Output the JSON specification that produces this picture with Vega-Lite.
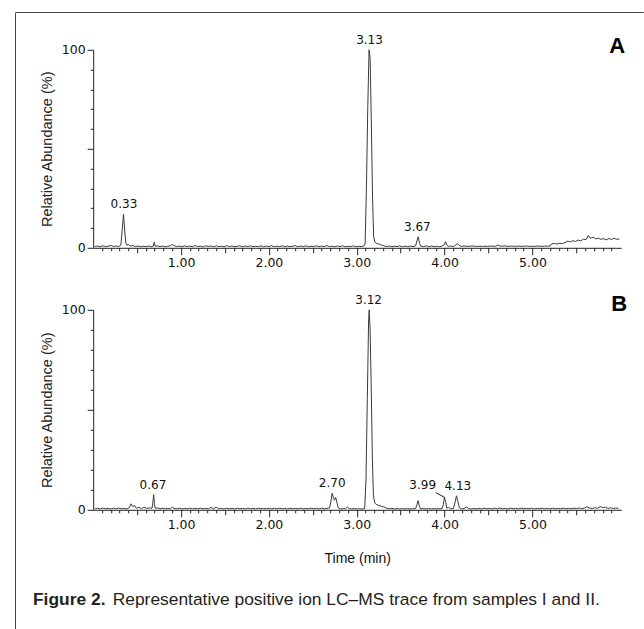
{
"$schema": "https://vega.github.io/schema/vega-lite/v6.json",
"autosize": {"type": "pad"},
"padding": {"left": 14, "top": 11, "right": 0, "bottom": 0},
"background": "white",
"spacing": 0,
"bounds": "flush",
"config": {
  "view": {"stroke": null},
  "axis": {"domainColor": "#222", "tickColor": "#222", "labelColor": "#111", "labelFont": "DejaVu Sans", "labelFontSize": 12.5, "grid": false, "labelPadding": 2, "tickWidth": 1, "domainWidth": 1, "labelOverlap": false, "labelFlush": false, "labelBound": false, "titleFont": "Liberation Sans", "titleFontWeight": "normal", "titleColor": "#222"}
},
"datasets": {
  "A": [{"t":0.02,"v":0.6},{"t":0.05,"v":0.9},{"t":0.08,"v":0.5},{"t":0.11,"v":1.0},{"t":0.14,"v":0.6},{"t":0.17,"v":0.8},{"t":0.2,"v":1.2},{"t":0.23,"v":0.7},{"t":0.26,"v":0.9},{"t":0.29,"v":0.6},{"t":0.315,"v":1.4},{"t":0.33,"v":9},{"t":0.345,"v":17},{"t":0.36,"v":8},{"t":0.372,"v":2.2},{"t":0.385,"v":1.3},{"t":0.4,"v":1.7},{"t":0.42,"v":0.9},{"t":0.45,"v":1.2},{"t":0.48,"v":0.6},{"t":0.51,"v":0.9},{"t":0.54,"v":0.5},{"t":0.57,"v":0.8},{"t":0.6,"v":0.6},{"t":0.63,"v":0.9},{"t":0.66,"v":0.5},{"t":0.685,"v":0.9},{"t":0.695,"v":2.9},{"t":0.705,"v":0.8},{"t":0.73,"v":1.0},{"t":0.76,"v":0.6},{"t":0.79,"v":0.9},{"t":0.82,"v":0.5},{"t":0.85,"v":0.8},{"t":0.88,"v":1.0},{"t":0.9,"v":1.7},{"t":0.92,"v":1.1},{"t":0.95,"v":0.6},{"t":0.98,"v":0.9},{"t":1.01,"v":0.5},{"t":1.04,"v":1.0},{"t":1.07,"v":0.6},{"t":1.1,"v":0.9},{"t":1.13,"v":0.5},{"t":1.16,"v":1.1},{"t":1.19,"v":0.6},{"t":1.22,"v":0.9},{"t":1.25,"v":0.4},{"t":1.28,"v":1.0},{"t":1.31,"v":0.7},{"t":1.34,"v":0.9},{"t":1.37,"v":0.5},{"t":1.4,"v":1.0},{"t":1.43,"v":0.6},{"t":1.46,"v":0.8},{"t":1.49,"v":0.5},{"t":1.52,"v":1.1},{"t":1.55,"v":0.6},{"t":1.58,"v":0.9},{"t":1.61,"v":0.5},{"t":1.64,"v":0.8},{"t":1.67,"v":1.0},{"t":1.7,"v":0.5},{"t":1.73,"v":0.9},{"t":1.76,"v":0.6},{"t":1.79,"v":1.0},{"t":1.82,"v":0.5},{"t":1.85,"v":0.8},{"t":1.88,"v":0.6},{"t":1.91,"v":1.0},{"t":1.94,"v":0.5},{"t":1.97,"v":0.9},{"t":2.0,"v":0.6},{"t":2.03,"v":1.1},{"t":2.06,"v":0.5},{"t":2.09,"v":0.8},{"t":2.12,"v":0.6},{"t":2.15,"v":1.0},{"t":2.18,"v":0.5},{"t":2.21,"v":0.9},{"t":2.24,"v":0.6},{"t":2.27,"v":0.8},{"t":2.3,"v":1.1},{"t":2.33,"v":0.5},{"t":2.36,"v":0.9},{"t":2.39,"v":0.6},{"t":2.42,"v":1.0},{"t":2.45,"v":0.5},{"t":2.48,"v":0.8},{"t":2.51,"v":0.6},{"t":2.54,"v":1.0},{"t":2.57,"v":0.5},{"t":2.6,"v":0.9},{"t":2.63,"v":0.6},{"t":2.66,"v":1.1},{"t":2.69,"v":0.6},{"t":2.72,"v":0.8},{"t":2.75,"v":0.5},{"t":2.78,"v":0.9},{"t":2.81,"v":0.6},{"t":2.84,"v":1.0},{"t":2.87,"v":0.5},{"t":2.9,"v":0.8},{"t":2.93,"v":0.6},{"t":2.96,"v":1.0},{"t":2.99,"v":0.5},{"t":3.02,"v":0.8},{"t":3.05,"v":0.6},{"t":3.08,"v":0.9},{"t":3.095,"v":2},{"t":3.11,"v":30},{"t":3.125,"v":70},{"t":3.14,"v":100},{"t":3.152,"v":96},{"t":3.165,"v":65},{"t":3.18,"v":25},{"t":3.192,"v":6},{"t":3.205,"v":3},{"t":3.22,"v":2.3},{"t":3.25,"v":1.9},{"t":3.28,"v":1.4},{"t":3.31,"v":1.0},{"t":3.34,"v":0.6},{"t":3.37,"v":0.9},{"t":3.4,"v":0.5},{"t":3.43,"v":0.8},{"t":3.46,"v":0.6},{"t":3.49,"v":1.0},{"t":3.52,"v":0.5},{"t":3.55,"v":0.8},{"t":3.58,"v":0.6},{"t":3.61,"v":0.9},{"t":3.64,"v":0.6},{"t":3.67,"v":1.0},{"t":3.685,"v":3.5},{"t":3.7,"v":5.6},{"t":3.715,"v":2.2},{"t":3.73,"v":0.8},{"t":3.76,"v":0.6},{"t":3.79,"v":1.0},{"t":3.82,"v":0.5},{"t":3.85,"v":0.9},{"t":3.88,"v":0.6},{"t":3.91,"v":0.8},{"t":3.94,"v":0.5},{"t":3.97,"v":0.9},{"t":3.995,"v":1.5},{"t":4.01,"v":3.1},{"t":4.025,"v":1.3},{"t":4.04,"v":0.7},{"t":4.07,"v":0.9},{"t":4.1,"v":0.6},{"t":4.125,"v":1.4},{"t":4.145,"v":2.1},{"t":4.165,"v":1.2},{"t":4.19,"v":0.7},{"t":4.22,"v":0.9},{"t":4.25,"v":0.8},{"t":4.28,"v":0.7},{"t":4.31,"v":0.9},{"t":4.34,"v":0.8},{"t":4.37,"v":0.7},{"t":4.4,"v":0.8},{"t":4.43,"v":0.7},{"t":4.46,"v":0.8},{"t":4.49,"v":0.7},{"t":4.52,"v":0.9},{"t":4.55,"v":0.8},{"t":4.58,"v":0.7},{"t":4.61,"v":1.4},{"t":4.63,"v":0.9},{"t":4.66,"v":0.8},{"t":4.69,"v":1.0},{"t":4.72,"v":0.7},{"t":4.75,"v":0.9},{"t":4.78,"v":0.8},{"t":4.81,"v":0.7},{"t":4.84,"v":0.9},{"t":4.87,"v":0.7},{"t":4.9,"v":0.8},{"t":4.93,"v":0.9},{"t":4.96,"v":0.7},{"t":4.99,"v":0.8},{"t":5.02,"v":0.7},{"t":5.05,"v":0.9},{"t":5.08,"v":0.8},{"t":5.11,"v":0.7},{"t":5.14,"v":0.9},{"t":5.17,"v":0.8},{"t":5.2,"v":0.9},{"t":5.22,"v":2.0},{"t":5.25,"v":2.2},{"t":5.28,"v":1.9},{"t":5.31,"v":2.3},{"t":5.34,"v":2.1},{"t":5.37,"v":2.6},{"t":5.4,"v":3.4},{"t":5.43,"v":3.0},{"t":5.46,"v":3.6},{"t":5.49,"v":3.2},{"t":5.52,"v":3.9},{"t":5.55,"v":3.5},{"t":5.58,"v":4.4},{"t":5.61,"v":4.1},{"t":5.635,"v":6.2},{"t":5.66,"v":4.8},{"t":5.69,"v":5.4},{"t":5.72,"v":4.5},{"t":5.75,"v":4.8},{"t":5.78,"v":4.3},{"t":5.81,"v":4.6},{"t":5.84,"v":4.0},{"t":5.87,"v":4.7},{"t":5.9,"v":4.2},{"t":5.93,"v":4.8},{"t":5.96,"v":4.3},{"t":5.99,"v":4.5}],
  "B": [{"t":0.02,"v":0.5},{"t":0.05,"v":0.8},{"t":0.08,"v":0.4},{"t":0.11,"v":0.9},{"t":0.14,"v":0.5},{"t":0.17,"v":0.7},{"t":0.2,"v":0.4},{"t":0.23,"v":0.8},{"t":0.26,"v":0.5},{"t":0.29,"v":0.9},{"t":0.32,"v":0.5},{"t":0.35,"v":0.7},{"t":0.38,"v":0.4},{"t":0.41,"v":1.0},{"t":0.43,"v":3.0},{"t":0.45,"v":1.6},{"t":0.47,"v":2.2},{"t":0.49,"v":0.8},{"t":0.52,"v":1.2},{"t":0.55,"v":0.6},{"t":0.58,"v":1.3},{"t":0.61,"v":0.7},{"t":0.64,"v":0.9},{"t":0.67,"v":0.8},{"t":0.68,"v":4},{"t":0.688,"v":7.6},{"t":0.697,"v":3},{"t":0.705,"v":0.8},{"t":0.73,"v":0.9},{"t":0.76,"v":0.5},{"t":0.79,"v":0.8},{"t":0.82,"v":0.5},{"t":0.85,"v":0.7},{"t":0.88,"v":0.5},{"t":0.9,"v":1.4},{"t":0.92,"v":0.7},{"t":0.95,"v":0.5},{"t":0.98,"v":0.8},{"t":1.01,"v":0.4},{"t":1.04,"v":0.7},{"t":1.07,"v":0.5},{"t":1.1,"v":0.8},{"t":1.13,"v":0.4},{"t":1.16,"v":0.7},{"t":1.19,"v":0.5},{"t":1.22,"v":0.8},{"t":1.25,"v":0.5},{"t":1.28,"v":0.7},{"t":1.31,"v":0.4},{"t":1.34,"v":1.2},{"t":1.37,"v":0.5},{"t":1.4,"v":1.3},{"t":1.43,"v":0.5},{"t":1.46,"v":0.7},{"t":1.49,"v":0.4},{"t":1.52,"v":0.8},{"t":1.55,"v":0.5},{"t":1.58,"v":0.7},{"t":1.61,"v":0.4},{"t":1.64,"v":0.8},{"t":1.67,"v":0.5},{"t":1.7,"v":0.7},{"t":1.73,"v":0.4},{"t":1.76,"v":0.8},{"t":1.79,"v":0.5},{"t":1.82,"v":0.7},{"t":1.85,"v":0.4},{"t":1.88,"v":0.8},{"t":1.91,"v":0.5},{"t":1.94,"v":0.7},{"t":1.97,"v":0.5},{"t":2.0,"v":0.8},{"t":2.03,"v":0.4},{"t":2.06,"v":0.7},{"t":2.09,"v":0.5},{"t":2.12,"v":0.8},{"t":2.15,"v":0.5},{"t":2.18,"v":0.7},{"t":2.21,"v":0.4},{"t":2.24,"v":0.8},{"t":2.27,"v":0.5},{"t":2.3,"v":0.7},{"t":2.33,"v":0.5},{"t":2.36,"v":0.8},{"t":2.39,"v":0.4},{"t":2.42,"v":0.7},{"t":2.45,"v":0.5},{"t":2.48,"v":0.8},{"t":2.51,"v":0.5},{"t":2.54,"v":0.7},{"t":2.57,"v":0.4},{"t":2.6,"v":0.8},{"t":2.63,"v":0.5},{"t":2.66,"v":0.7},{"t":2.69,"v":0.9},{"t":2.705,"v":4},{"t":2.72,"v":8.3},{"t":2.735,"v":6},{"t":2.745,"v":4.8},{"t":2.76,"v":6.2},{"t":2.775,"v":3.5},{"t":2.79,"v":1},{"t":2.81,"v":0.4},{"t":2.84,"v":0.6},{"t":2.87,"v":0.5},{"t":2.895,"v":1.4},{"t":2.915,"v":0.6},{"t":2.94,"v":0.4},{"t":2.97,"v":0.6},{"t":3.0,"v":0.4},{"t":3.03,"v":0.5},{"t":3.06,"v":0.4},{"t":3.09,"v":0.6},{"t":3.105,"v":15},{"t":3.12,"v":55},{"t":3.135,"v":95},{"t":3.142,"v":100},{"t":3.152,"v":90},{"t":3.165,"v":60},{"t":3.178,"v":25},{"t":3.19,"v":7},{"t":3.205,"v":3.4},{"t":3.22,"v":2.8},{"t":3.25,"v":2.2},{"t":3.28,"v":1.8},{"t":3.31,"v":1.4},{"t":3.34,"v":0.8},{"t":3.37,"v":0.5},{"t":3.4,"v":0.7},{"t":3.43,"v":0.4},{"t":3.46,"v":0.6},{"t":3.49,"v":0.4},{"t":3.52,"v":0.6},{"t":3.55,"v":0.4},{"t":3.58,"v":0.6},{"t":3.61,"v":0.4},{"t":3.64,"v":0.5},{"t":3.67,"v":0.6},{"t":3.685,"v":2.5},{"t":3.698,"v":4.6},{"t":3.71,"v":2.2},{"t":3.725,"v":0.5},{"t":3.76,"v":0.6},{"t":3.79,"v":0.4},{"t":3.82,"v":0.6},{"t":3.85,"v":0.4},{"t":3.88,"v":0.6},{"t":3.91,"v":0.4},{"t":3.94,"v":0.6},{"t":3.97,"v":0.5},{"t":3.985,"v":2.5},{"t":3.998,"v":6.3},{"t":4.012,"v":4},{"t":4.025,"v":0.8},{"t":4.045,"v":1.2},{"t":4.07,"v":0.5},{"t":4.1,"v":0.6},{"t":4.118,"v":3.5},{"t":4.135,"v":7},{"t":4.152,"v":4},{"t":4.168,"v":1},{"t":4.19,"v":0.5},{"t":4.22,"v":0.6},{"t":4.25,"v":1.4},{"t":4.27,"v":0.7},{"t":4.3,"v":0.4},{"t":4.33,"v":0.6},{"t":4.36,"v":0.5},{"t":4.39,"v":0.7},{"t":4.42,"v":0.4},{"t":4.45,"v":0.8},{"t":4.48,"v":0.5},{"t":4.51,"v":0.7},{"t":4.54,"v":0.4},{"t":4.57,"v":0.8},{"t":4.6,"v":0.5},{"t":4.63,"v":0.9},{"t":4.66,"v":0.5},{"t":4.69,"v":0.7},{"t":4.72,"v":0.4},{"t":4.75,"v":0.8},{"t":4.78,"v":0.5},{"t":4.81,"v":0.7},{"t":4.84,"v":0.4},{"t":4.87,"v":0.8},{"t":4.9,"v":0.5},{"t":4.93,"v":0.7},{"t":4.96,"v":0.5},{"t":4.99,"v":0.8},{"t":5.02,"v":0.4},{"t":5.05,"v":0.7},{"t":5.08,"v":0.5},{"t":5.11,"v":0.8},{"t":5.14,"v":0.5},{"t":5.17,"v":0.7},{"t":5.2,"v":0.4},{"t":5.23,"v":0.8},{"t":5.26,"v":0.5},{"t":5.29,"v":0.7},{"t":5.32,"v":0.5},{"t":5.35,"v":0.8},{"t":5.38,"v":0.5},{"t":5.41,"v":0.7},{"t":5.44,"v":0.5},{"t":5.47,"v":0.8},{"t":5.5,"v":0.6},{"t":5.53,"v":0.9},{"t":5.56,"v":0.6},{"t":5.59,"v":0.8},{"t":5.62,"v":1.5},{"t":5.65,"v":0.9},{"t":5.68,"v":0.7},{"t":5.71,"v":1.0},{"t":5.74,"v":0.8},{"t":5.77,"v":1.6},{"t":5.8,"v":1.1},{"t":5.83,"v":1.3},{"t":5.86,"v":0.7},{"t":5.89,"v":1.0},{"t":5.92,"v":0.6},{"t":5.95,"v":0.9},{"t":5.98,"v":0.7}],
  "labA": [{"t":0.35,"v":17,"s":"0.33"},{"t":3.145,"v":100,"s":"3.13"},{"t":3.69,"v":5.6,"s":"3.67"}],
  "labB": [{"t":0.68,"v":7.6,"s":"0.67"},{"t":2.72,"v":8.3,"s":"2.70"},{"t":3.135,"v":100,"s":"3.12"},{"t":3.75,"v":7.6,"s":"3.99"},{"t":4.15,"v":7,"s":"4.13"}],
  "leadB": [{"t":3.9,"v":8.6,"t2":4.0,"v2":6.2}],
  "cap": [{"k":"b","s":"Figure 2."},{"k":"r","s":"Representative positive ion LC–MS trace from samples I and II."}],
  "none": []
},
"vconcat": [
  {
    "width": 628, "height": 0.01,
    "view": {"stroke": "#444", "strokeWidth": 1},
    "data": {"name": "none"},
    "mark": "point"
  },
  {
    "spacing": 77.2,
    "bounds": "flush",
    "hconcat": [
      {
        "width": 0.01, "height": 616,
        "view": {"stroke": "#444", "strokeWidth": 1},
        "data": {"name": "none"},
        "mark": "point"
      },
      {
        "spacing": 35.8,
        "bounds": "flush",
        "vconcat": [
          {"width": 1, "height": 0.01, "data": {"name": "none"}, "mark": "point"},
          {
            "spacing": 62,
            "bounds": "flush",
            "vconcat": [
              {
                "width": 528, "height": 198,
                "title": {"text": "A", "orient": "top", "anchor": "end", "frame": "group", "font": "Liberation Sans", "fontSize": 22, "fontWeight": "bold", "color": "#000", "baseline": "alphabetic", "offset": -41, "dx": 4},
                "resolve": {"axis": {"x": "independent", "y": "independent"}},
                "layer": [
                  {"data": {"name": "A"}, "mark": {"type": "line", "color": "#3a3a3a", "strokeWidth": 1},
                   "encoding": {
                     "x": {"field": "t", "type": "quantitative", "scale": {"domain": [0, 6.01], "nice": false, "zero": false},
                           "axis": {"orient": "bottom", "title": null, "labels": false, "tickSize": 3, "values": [0.1,0.2,0.3,0.4,0.6,0.7,0.8,0.9,1.1,1.2,1.3,1.4,1.6,1.7,1.8,1.9,2.1,2.2,2.3,2.4,2.6,2.7,2.8,2.9,3.1,3.2,3.3,3.4,3.6,3.7,3.8,3.9,4.1,4.2,4.3,4.4,4.6,4.7,4.8,4.9,5.1,5.2,5.3,5.4,5.6,5.7,5.8,5.9]}},
                     "y": {"field": "v", "type": "quantitative", "scale": {"domain": [0, 100], "nice": false},
                           "axis": {"orient": "left", "title": null, "labels": false, "tickSize": 3, "values": [10,20,30,40,60,70,80,90]}}
                   }},
                  {"data": {"name": "labA"}, "transform": [{"filter": "datum.v < 100"}],
                   "mark": {"type": "text", "font": "DejaVu Sans", "fontSize": 12, "baseline": "bottom", "dy": -3, "color": "#111"},
                   "encoding": {
                     "x": {"field": "t", "type": "quantitative", "axis": {"orient": "bottom", "title": null, "labels": false, "domain": false, "tickSize": 5, "values": [0.5,1.5,2.5,3.5,4.5,5.5]}},
                     "y": {"field": "v", "type": "quantitative", "axis": {"orient": "left", "title": null, "labels": false, "domain": false, "tickSize": 6, "values": [50]}},
                     "text": {"field": "s"}}},
                  {"data": {"name": "labA"}, "transform": [{"filter": "datum.v >= 100"}],
                   "mark": {"type": "text", "font": "DejaVu Sans", "fontSize": 12, "baseline": "bottom", "dy": -3, "color": "#111"},
                   "encoding": {
                     "x": {"field": "t", "type": "quantitative", "axis": {"orient": "bottom", "title": null, "domain": false, "tickSize": 7, "format": ".2f", "values": [1,2,3,4,5]}},
                     "y": {"field": "v", "type": "quantitative", "axis": {"orient": "left", "title": "Relative Abundance (%)", "titleFontSize": 14.5, "titlePadding": 7, "domain": false, "tickSize": 6, "values": [0,100]}},
                     "text": {"field": "s"}}}
                ]
              },
              {
                "width": 528, "height": 200,
                "title": {"text": "B", "orient": "top", "anchor": "end", "frame": "group", "font": "Liberation Sans", "fontSize": 22, "fontWeight": "bold", "color": "#000", "baseline": "alphabetic", "offset": -39, "dx": 6},
                "resolve": {"axis": {"x": "independent", "y": "independent"}},
                "layer": [
                  {"data": {"name": "B"}, "mark": {"type": "line", "color": "#3a3a3a", "strokeWidth": 1},
                   "encoding": {
                     "x": {"field": "t", "type": "quantitative", "scale": {"domain": [0, 6.01], "nice": false, "zero": false},
                           "axis": {"orient": "bottom", "title": null, "labels": false, "tickSize": 3, "values": [0.1,0.2,0.3,0.4,0.6,0.7,0.8,0.9,1.1,1.2,1.3,1.4,1.6,1.7,1.8,1.9,2.1,2.2,2.3,2.4,2.6,2.7,2.8,2.9,3.1,3.2,3.3,3.4,3.6,3.7,3.8,3.9,4.1,4.2,4.3,4.4,4.6,4.7,4.8,4.9,5.1,5.2,5.3,5.4,5.6,5.7,5.8,5.9]}},
                     "y": {"field": "v", "type": "quantitative", "scale": {"domain": [0, 100], "nice": false},
                           "axis": {"orient": "left", "title": null, "labels": false, "tickSize": 3, "values": [10,20,30,40,60,70,80,90]}}
                   }},
                  {"data": {"name": "labB"}, "transform": [{"filter": "datum.v < 100"}],
                   "mark": {"type": "text", "font": "DejaVu Sans", "fontSize": 12, "baseline": "bottom", "dy": -3, "color": "#111"},
                   "encoding": {
                     "x": {"field": "t", "type": "quantitative", "axis": {"orient": "bottom", "title": null, "labels": false, "domain": false, "tickSize": 5, "values": [0.5,1.5,2.5,3.5,4.5,5.5]}},
                     "y": {"field": "v", "type": "quantitative", "axis": {"orient": "left", "title": null, "labels": false, "domain": false, "tickSize": 6, "values": [50]}},
                     "text": {"field": "s"}}},
                  {"data": {"name": "labB"}, "transform": [{"filter": "datum.v >= 100"}],
                   "mark": {"type": "text", "font": "DejaVu Sans", "fontSize": 12, "baseline": "bottom", "dy": -3, "color": "#111"},
                   "encoding": {
                     "x": {"field": "t", "type": "quantitative", "axis": {"orient": "bottom", "title": "Time (min)", "titleFontSize": 14, "titlePadding": 20, "titleColor": "#111", "domain": false, "tickSize": 7, "format": ".2f", "values": [1,2,3,4,5]}},
                     "y": {"field": "v", "type": "quantitative", "axis": {"orient": "left", "title": "Relative Abundance (%)", "titleFontSize": 14.5, "titlePadding": 7, "domain": false, "tickSize": 6, "values": [0,100]}},
                     "text": {"field": "s"}}},
                  {"data": {"name": "leadB"}, "mark": {"type": "rule", "color": "#222", "strokeWidth": 1},
                   "encoding": {"x": {"field": "t", "type": "quantitative", "axis": null}, "y": {"field": "v", "type": "quantitative", "axis": null}, "x2": {"field": "t2"}, "y2": {"field": "v2"}}}
                ]
              },
              {
                "width": 20, "height": 40,
                "data": {"name": "cap"},
                "layer": [
                  {"transform": [{"filter": "datum.k == 'b'"}], "mark": {"type": "text", "font": "Liberation Sans", "fontSize": 17.4, "fontWeight": "bold", "align": "left", "baseline": "alphabetic", "dx": -70.2, "dy": 13, "color": "#231f20"},
                   "encoding": {"text": {"field": "s"}}},
                  {"transform": [{"filter": "datum.k == 'r'"}], "mark": {"type": "text", "font": "Liberation Sans", "fontSize": 17.4, "align": "left", "baseline": "alphabetic", "dx": 9.5, "dy": 13, "color": "#231f20"},
                   "encoding": {"text": {"field": "s"}}}
                ]
              }
            ]
          }
        ]
      }
    ]
  }
]
}
